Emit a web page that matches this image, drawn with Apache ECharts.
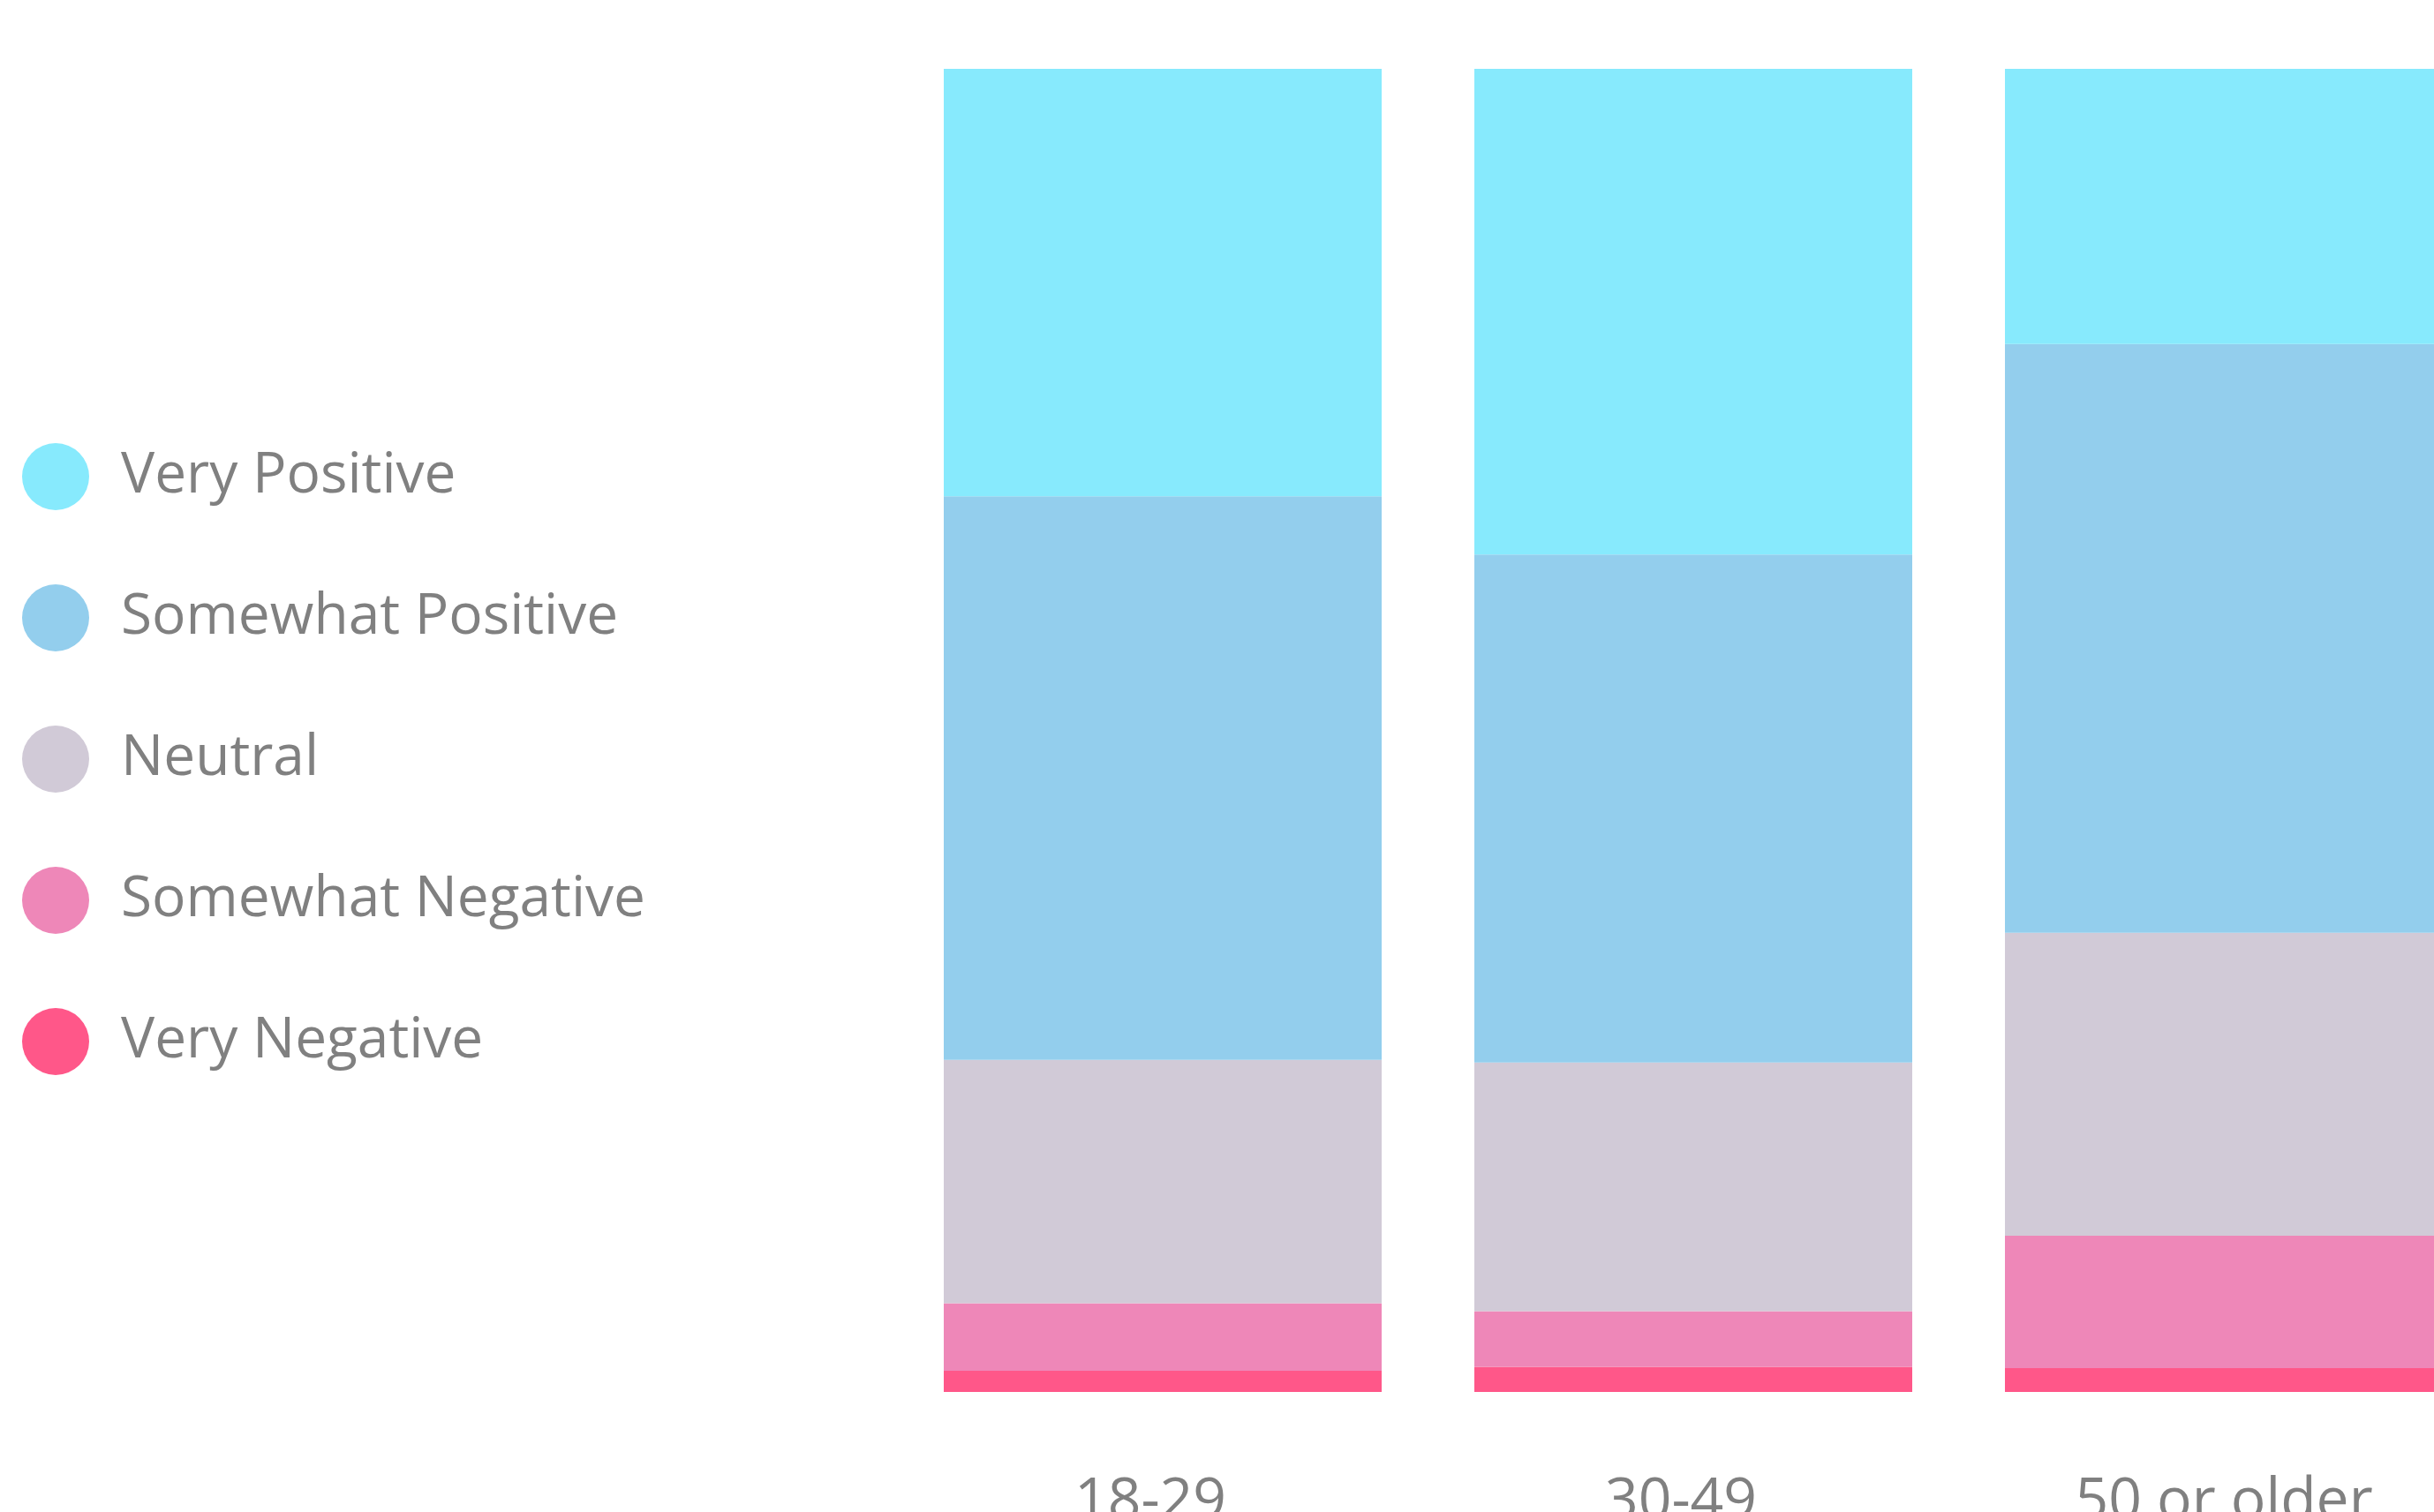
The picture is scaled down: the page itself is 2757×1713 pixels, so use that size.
<!DOCTYPE html>
<html>
<head>
<meta charset="utf-8">
<script src="https://cdn.jsdelivr.net/npm/echarts@6/dist/echarts.min.js"></script>
<style>
  html, body { margin: 0; padding: 0; background: #ffffff; }
  #chart { width: 2757px; height: 1713px; }
</style>
</head>
<body>
<div id="chart"></div>
<script>
const categories = ['18-29', '30-49', '50 or older'];
const seriesNames = ['Very Positive', 'Somewhat Positive', 'Neutral', 'Somewhat Negative', 'Very Negative'];
const veryPositive = [32.3, 36.7, 20.8];
const somewhatPositive = [42.6, 38.4, 44.5];
const neutral = [18.4, 18.8, 22.9];
const somewhatNegative = [5.1, 4.2, 10.0];
const veryNegative = [1.6, 1.9, 1.8];
const colors = {
  'Very Positive': '#87EAFD',
  'Somewhat Positive': '#93CEED',
  'Neutral': '#D1CAD7',
  'Somewhat Negative': '#EE87B8',
  'Very Negative': '#FF5789'
};

const stackOrder = [
  ['Very Negative', veryNegative],
  ['Somewhat Negative', somewhatNegative],
  ['Neutral', neutral],
  ['Somewhat Positive', somewhatPositive],
  ['Very Positive', veryPositive]
];

const FONT = 'Open Sans';
const labelStyle = { fontFamily: FONT, fontSize: 66, color: '#808080' };

const chart = echarts.init(document.getElementById('chart'), null, { renderer: 'canvas' });
chart.setOption({
  backgroundColor: '#ffffff',
  animation: false,
  textStyle: { fontFamily: FONT },
  legend: {
    data: seriesNames,
    orient: 'vertical',
    left: 25,
    top: 502,
    padding: 0,
    itemWidth: 76,
    itemHeight: 76,
    itemGap: 84,
    icon: 'circle',
    textStyle: {
      fontFamily: FONT,
      fontSize: 64,
      color: '#808080',
      padding: [20, 0, 0, 31]
    }
  },
  grid: {
    left: 1016.5,
    right: -62.5,
    top: 78,
    bottom: 136,
    containLabel: false,
    outerBoundsMode: 'none'
  },
  xAxis: {
    type: 'category',
    data: categories,
    axisLine: { show: false },
    axisTick: { show: false },
    axisLabel: {
      interval: 0,
      hideOverlap: false,
      margin: 92,
      fontFamily: FONT,
      fontSize: 66,
      color: '#808080',
      formatter: function (value, index) {
        return index < 2 ? '{s|' + value + '}' : '{n|' + value + '}';
      },
      rich: {
        s: Object.assign({ padding: [0, 28, 0, 0] }, labelStyle),
        n: Object.assign({}, labelStyle)
      }
    }
  },
  yAxis: {
    type: 'value',
    min: 0,
    max: 100,
    show: false,
    splitLine: { show: false }
  },
  series: stackOrder.map(([name, values]) => ({
    name: name,
    type: 'bar',
    stack: 'total',
    data: values,
    barCategoryGap: '17.47%',
    itemStyle: { color: colors[name] },
    emphasis: { disabled: true }
  }))
});
</script>
</body>
</html>
